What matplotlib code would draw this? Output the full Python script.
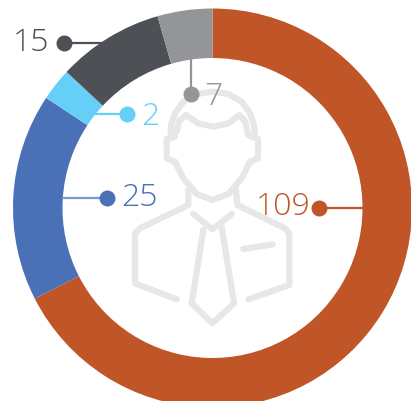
import matplotlib
matplotlib.use("Agg")
import matplotlib.pyplot as plt

ORANGE = "#c05627"
BLUE = "#4a71b8"
LIGHT_BLUE = "#66cff8"
DARK_GREY = "#4d5054"
GREY = "#949598"
ICON = "#e6e7e8"

# Labels printed on the chart, clockwise from the top
values = [109, 25, 2, 15, 7]
# Slice sizes as drawn, in degrees; the drawn slices don't quite follow the labels
slice_sizes = [243, 60.5, 9.5, 31, 16]
colors = [ORANGE, BLUE, LIGHT_BLUE, DARK_GREY, GREY]

W, H = 411, 402
CX, CY, R, RING = 212.5, 208, 199.5, 49.5


# Work in image pixels, y going down
def fy(y):
    return H - y - 1


# The icon outlines below are in zoomed pixels of the upper right part of the picture
def draw_icon(ax, pts):
    xs = [120 + p[0] / 3 for p in pts]
    ys = [fy(90 + p[1] / 3) for p in pts]
    ax.plot(xs, ys, color=ICON, lw=4.5, solid_capstyle="round", solid_joinstyle="round", zorder=1)


fig = plt.figure(figsize=(W / 100, H / 100), dpi=100)
ax = fig.add_axes([0, 0, 1, 1])
ax.pie(slice_sizes, colors=colors, startangle=90, counterclock=False, radius=R,
       center=(CX, fy(CY)), wedgeprops={"width": RING, "linewidth": 0})
ax.set_xlim(0, W)
ax.set_ylim(0, H)
ax.axis("off")

# hair
draw_icon(ax, [(152, 140), (153, 105), (165, 70), (190, 35), (230, 12), (278, 5), (325, 12), (365, 35), (390, 70), (402, 105), (405, 140)])
draw_icon(ax, [(170, 125), (178, 92), (198, 75), (235, 100), (280, 110), (325, 100), (358, 75), (376, 95), (385, 135)])
# face
draw_icon(ax, [(165, 140), (140, 147), (140, 205), (165, 215), (190, 265), (230, 312), (278, 330), (325, 312), (365, 265), (390, 215), (414, 205), (414, 147), (390, 138)])
# shoulders and jacket
draw_icon(ax, [(205, 300), (205, 345), (60, 415), (45, 430), (45, 580), (170, 628)])
draw_icon(ax, [(348, 300), (352, 345), (495, 415), (508, 430), (508, 585), (385, 628)])
# collar, tie, pocket
draw_icon(ax, [(220, 372), (277, 418), (335, 372)])
draw_icon(ax, [(250, 420), (215, 640), (277, 700), (342, 640), (305, 410)])
draw_icon(ax, [(370, 477), (458, 463)])

# label dots and leader lines: value index, dot, line end, text position, text anchor
labels = [
    (0, (319, 208), (362, 208), (311, 206), "right", ORANGE),
    (1, (107, 198), (63, 198), (121, 197), "left", "#7a97d0"),
    (2, (127, 114), (95, 114), (141, 116), "left", LIGHT_BLUE),
    (3, (64, 43), (102, 43), (49, 42), "right", DARK_GREY),
    (4, (191, 94), (191, 58), (204, 96), "left", GREY),
]
for i, dot, end, pos, ha, line_color in labels:
    ax.plot([dot[0], end[0]], [fy(dot[1]), fy(end[1])], color=line_color, lw=1.6, zorder=3)
    ax.plot(dot[0], fy(dot[1]), "o", ms=11.5, color=colors[i], mew=0, zorder=4)
    ax.text(pos[0], fy(pos[1]), str(values[i]), color=colors[i], fontsize=23, ha=ha, va="center",
            family="Open Sans", fontweight="light", zorder=5)

fig.savefig("out.png", dpi=100)
